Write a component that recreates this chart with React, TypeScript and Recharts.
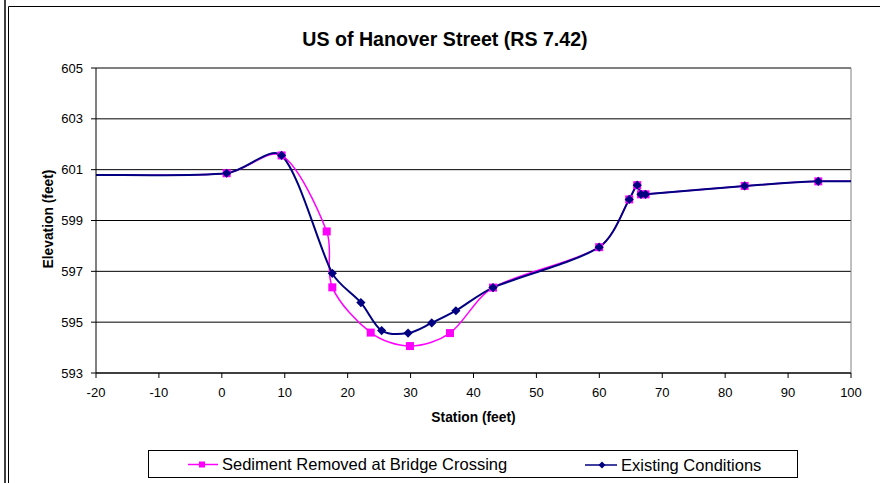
import React from "react"
import { LineChart, Line, XAxis, YAxis, CartesianGrid, ReferenceLine } from "recharts"

// Station (feet) / elevation (feet)
const existingStation = [-20, 0.77, 9.5, 17.56, 22.1, 25.4, 29.6, 33.36, 37.2, 43.1, 59.97, 64.75, 66.02, 66.62, 67.35, 83.1, 94.8, 100]
const existingElev = [600.79, 600.86, 601.56, 596.92, 595.77, 594.67, 594.57, 594.97, 595.45, 596.36, 597.95, 599.83, 600.39, 600.03, 600.03, 600.36, 600.54, 600.54]

const removedStation = [-20, 0.77, 9.5, 16.67, 17.56, 23.66, 29.9, 36.26, 43.1, 59.97, 64.75, 66.02, 66.62, 67.35, 83.1, 94.8, 100]
const removedElev = [600.79, 600.86, 601.56, 598.57, 596.37, 594.59, 594.06, 594.57, 596.36, 597.95, 599.83, 600.39, 600.03, 600.03, 600.36, 600.54, 600.54]

const stationTicks = [-20, -10, 0, 10, 20, 30, 40, 50, 60, 70, 80, 90, 100]
const elevTicks = [593, 595, 597, 599, 601, 603, 605]

const TITLE = "US of Hanover Street (RS 7.42)"
const X_LABEL = "Station (feet)"
const Y_LABEL = "Elevation (feet)"
const SERIES_NAMES = ["Sediment Removed at Bridge Crossing", "Existing Conditions"]

const PINK = "#ff00ff"
const NAVY = "#000080"
const FONT = "'Liberation Sans', Arial, sans-serif"

const toRows = (xs: number[], ys: number[]) => xs.map((x, i) => ({ x, y: ys[i] }))
const existingData = toRows(existingStation, existingElev)
const removedData = toRows(removedStation, removedElev)

const dist = (a: number[], b: number[]) => Math.hypot(b[0] - a[0], b[1] - a[1])

// Excel-like smoothed line: Catmull-Rom tangents, arms shortened next to short segments
const excelSmooth = (context: any) => {
  let pts: number[][] = []
  return {
    areaStart() {},
    areaEnd() {},
    lineStart() {
      pts = []
    },
    point(x: number, y: number) {
      pts.push([+x, +y])
    },
    lineEnd() {
      const n = pts.length
      if (!n) return
      context.moveTo(pts[0][0], pts[0][1])
      for (let i = 0; i < n - 1; i++) {
        const p0 = pts[Math.max(i - 1, 0)]
        const p1 = pts[i]
        const p2 = pts[i + 1]
        const p3 = pts[Math.min(i + 2, n - 1)]
        const d01 = dist(p0, p1)
        const d12 = dist(p1, p2)
        const d23 = dist(p2, p3)
        const a1 = i === 0 ? 1 / 6 : Math.min(1 / 6, d12 / (3 * (d01 + d12)))
        const a2 = i + 2 > n - 1 ? 1 / 6 : Math.min(1 / 6, d12 / (3 * (d12 + d23)))
        context.bezierCurveTo(
          p1[0] + (p2[0] - p0[0]) * a1,
          p1[1] + (p2[1] - p0[1]) * a1,
          p2[0] - (p3[0] - p1[0]) * a2,
          p2[1] - (p3[1] - p1[1]) * a2,
          p2[0],
          p2[1],
        )
      }
    },
  }
}

// the end points only carry the line to the plot edges, no marker there
const isEdge = (p: any) => p && (p.x <= -20 || p.x >= 100)

const squareDot = (props: any) => {
  const { cx, cy, payload, index } = props
  if (isEdge(payload)) return <g key={`s-${index}`} />
  return <rect key={`s-${index}`} x={cx - 4} y={cy - 4} width={8} height={8} fill={PINK} />
}

const diamondDot = (props: any) => {
  const { cx, cy, payload, index } = props
  if (isEdge(payload)) return <g key={`d-${index}`} />
  return (
    <polygon
      key={`d-${index}`}
      points={`${cx},${cy - 4.6} ${cx + 4.6},${cy} ${cx},${cy + 4.6} ${cx - 4.6},${cy}`}
      fill={NAVY}
    />
  )
}

export default function App() {
  return (
    <div style={{ position: "absolute", left: 0, top: 0, width: 880, height: 483, background: "#fff", overflow: "hidden" }}>
      <svg width={880} height={483} style={{ position: "absolute", left: 0, top: 0 }}>
        {/* chart frame */}
        <line x1={5} y1={0} x2={5} y2={483} stroke="#000" strokeWidth={1.5} />
        <polyline points="8.5,483 8.5,6.5 880,6.5" fill="none" stroke="#000" strokeWidth={1} />
      </svg>

      <div style={{ position: "absolute", left: 0, top: 0 }}>
        <LineChart width={880} height={483} margin={{ top: 68, right: 29, bottom: 80, left: 36 }}>
          <CartesianGrid horizontal vertical={false} stroke="#000" />
          <XAxis
            type="number"
            dataKey="x"
            domain={[-20, 100]}
            ticks={stationTicks}
            allowDataOverflow
            height={30}
            tickSize={5}
            tickMargin={10}
            stroke="#000"
            tick={{ fill: "#000", fontSize: 13, fontFamily: FONT }}
          />
          <YAxis
            type="number"
            dataKey="y"
            domain={[593, 605]}
            ticks={elevTicks}
            allowDataOverflow
            width={60}
            tickSize={5}
            tickMargin={8}
            stroke="#000"
            tick={{ fill: "#000", fontSize: 13, fontFamily: FONT }}
          />
          <ReferenceLine x={100} stroke="#808080" />
          <Line
            data={removedData}
            dataKey="y"
            name={SERIES_NAMES[0]}
            type={excelSmooth as any}
            stroke={PINK}
            strokeWidth={1.5}
            dot={squareDot}
            activeDot={false}
            isAnimationActive={false}
          />
          <Line
            data={existingData}
            dataKey="y"
            name={SERIES_NAMES[1]}
            type={excelSmooth as any}
            stroke={NAVY}
            strokeWidth={2}
            dot={diamondDot}
            activeDot={false}
            isAnimationActive={false}
          />
        </LineChart>
      </div>

      <svg width={880} height={483} style={{ position: "absolute", left: 0, top: 0, pointerEvents: "none" }}>
        <text x={445} y={46} textAnchor="middle" fontFamily={FONT} fontWeight="bold" fontSize={19.6} fill="#000">
          {TITLE}
        </text>
        <text x={473.5} y={422} textAnchor="middle" fontFamily={FONT} fontWeight="bold" fontSize={13.8} fill="#000">
          {X_LABEL}
        </text>
        <text
          x={53}
          y={219}
          transform="rotate(-90 53 219)"
          textAnchor="middle"
          fontFamily={FONT}
          fontWeight="bold"
          fontSize={13.8}
          fill="#000"
        >
          {Y_LABEL}
        </text>

        {/* legend */}
        <rect x={148.5} y={450.5} width={649} height={27} fill="#fff" stroke="#000" strokeWidth={1} />
        <line x1={188} y1={464.5} x2={218} y2={464.5} stroke={PINK} strokeWidth={1.5} />
        <rect x={199} y={461.5} width={6} height={6} fill={PINK} />
        <text x={222} y={470} fontFamily={FONT} fontSize={16.5} fill="#000">
          {SERIES_NAMES[0]}
        </text>
        <line x1={585} y1={465} x2={617} y2={465} stroke={NAVY} strokeWidth={1.5} />
        <polygon points="602,461.5 605.5,465 602,468.5 598.5,465" fill={NAVY} />
        <text x={621} y={470.5} fontFamily={FONT} fontSize={16.5} fill="#000">
          {SERIES_NAMES[1]}
        </text>
      </svg>
    </div>
  )
}
